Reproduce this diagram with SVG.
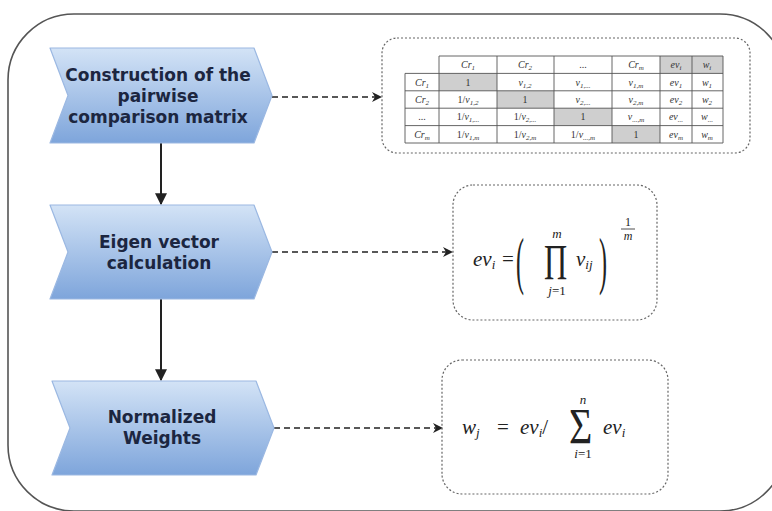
<svg xmlns="http://www.w3.org/2000/svg" width="772" height="511" viewBox="0 0 772 511">
<defs>
<linearGradient id="chev" x1="0" y1="0" x2="0" y2="1">
<stop offset="0" stop-color="#d3e3f6"/>
<stop offset="1" stop-color="#7ea5db"/>
</linearGradient>
<marker id="ah" viewBox="0 0 10 10" refX="9" refY="5" markerWidth="10" markerHeight="10" markerUnits="userSpaceOnUse" orient="auto">
<path d="M0,0 L10,5 L0,10 L3,5 Z" fill="#222"/>
</marker>
<marker id="ahv" viewBox="0 0 10 10" refX="9" refY="5" markerWidth="12" markerHeight="12" markerUnits="userSpaceOnUse" orient="auto">
<path d="M0,0 L10,5 L0,10 Z" fill="#222"/>
</marker>
</defs>
<style>
.frame{fill:#ffffff;stroke:#555;stroke-width:1.6}
.chev{fill:url(#chev);stroke:#9bb8e2;stroke-width:1.2;stroke-linejoin:round}
.lbl{font-family:"DejaVu Sans",Verdana,sans-serif;font-weight:bold;font-size:17px;fill:#1c2640;text-anchor:middle}
.dash{stroke:#222;stroke-width:1.5;stroke-dasharray:6 4;fill:none}
.solid{stroke:#222;stroke-width:2;fill:none}
.box{fill:none;stroke:#666;stroke-width:1.2;stroke-dasharray:2 2}
.grid{stroke:#555;stroke-width:0.9;fill:none}
.gray{fill:#cfcfcf}
.t{font-family:"Liberation Serif","Times New Roman",serif;font-style:italic;font-size:10px;fill:#333;text-anchor:middle}
.tn{font-style:normal}
.m{font-family:"Liberation Serif","Times New Roman",serif;font-style:italic;font-size:21px;fill:#222}
.mn{font-family:"Liberation Serif","Times New Roman",serif;fill:#222}
.ms{font-family:"Liberation Serif","Times New Roman",serif;font-style:italic;fill:#222;text-anchor:middle}
</style>

<rect class="frame" x="8" y="14" width="778" height="497" rx="66" ry="66"/>

<g id="connectors">
<line class="solid" x1="161" y1="143" x2="161" y2="204" marker-end="url(#ahv)"/>
<line class="solid" x1="161" y1="299" x2="161" y2="380" marker-end="url(#ahv)"/>
<line class="dash" x1="272" y1="97" x2="381" y2="97" marker-end="url(#ah)"/>
<line class="dash" x1="272" y1="252" x2="452" y2="252" marker-end="url(#ah)"/>
<line class="dash" x1="274" y1="428" x2="442" y2="428" marker-end="url(#ah)"/>
</g>

<g id="node-construction">
<path class="chev" d="M50,48 L254,48 L272,95.5 L254,143 L50,143 L68,95.5 Z"/>
<text class="lbl" x="158" y="81">Construction of the</text>
<text class="lbl" x="158" y="102">pairwise</text>
<text class="lbl" x="158" y="123">comparison matrix</text>
</g>

<g id="node-eigen">
<path class="chev" d="M50,205 L254,205 L272,252 L254,299 L50,299 L68,252 Z"/>
<text class="lbl" x="159" y="248">Eigen vector</text>
<text class="lbl" x="159" y="269">calculation</text>
</g>

<g id="node-normalized">
<path class="chev" d="M52,381 L256,381 L274,428 L256,475 L52,475 L70,428 Z"/>
<text class="lbl" x="162" y="423">Normalized</text>
<text class="lbl" x="162" y="444">Weights</text>
</g>

<g id="node-matrix">
<rect class="box" x="382" y="38" width="368" height="115" rx="15" ry="15"/>
<rect class="gray" x="660" y="56" width="32" height="17.4"/>
<rect class="gray" x="692" y="56" width="31" height="17.4"/>
<rect class="gray" x="439" y="73.4" width="58" height="17.4"/>
<rect class="gray" x="497" y="90.8" width="57" height="17.4"/>
<rect class="gray" x="554" y="108.2" width="58" height="17.4"/>
<rect class="gray" x="612" y="125.6" width="48" height="17.4"/>
<path class="grid" d="M439,56 H723 M405,73.4 H723 M405,90.8 H723 M405,108.2 H723 M405,125.6 H723 M405,143 H723 M405,73.4 V143 M439,56 V143 M497,56 V143 M554,56 V143 M612,56 V143 M660,56 V143 M692,56 V143 M723,56 V143"/>
<text class="t" x="468" y="68">Cr<tspan font-size="7" dy="2">1</tspan></text>
<text class="t" x="525" y="68">Cr<tspan font-size="7" dy="2">2</tspan></text>
<text class="t tn" x="583" y="68" fill="#888">...</text>
<text class="t" x="636" y="68">Cr<tspan font-size="7" dy="2">m</tspan></text>
<text class="t" x="676" y="68">ev<tspan font-size="7" dy="2">i</tspan></text>
<text class="t" x="707" y="68">w<tspan font-size="7" dy="2">i</tspan></text>
<text class="t" x="422" y="85.5">Cr<tspan font-size="7" dy="2">1</tspan></text>
<text class="t tn" x="468" y="85.5">1</text>
<text class="t" x="525" y="85.5">v<tspan font-size="7" dy="2">1,2</tspan></text>
<text class="t" x="583" y="85.5">v<tspan font-size="7" dy="2">1,...</tspan></text>
<text class="t" x="636" y="85.5">v<tspan font-size="7" dy="2">1,m</tspan></text>
<text class="t" x="676" y="85.5">ev<tspan font-size="7" dy="2">1</tspan></text>
<text class="t" x="707" y="85.5">w<tspan font-size="7" dy="2">1</tspan></text>
<text class="t" x="422" y="103">Cr<tspan font-size="7" dy="2">2</tspan></text>
<text class="t" x="468" y="103"><tspan font-style="normal">1/</tspan>v<tspan font-size="7" dy="2">1,2</tspan></text>
<text class="t tn" x="525" y="103">1</text>
<text class="t" x="583" y="103">v<tspan font-size="7" dy="2">2,...</tspan></text>
<text class="t" x="636" y="103">v<tspan font-size="7" dy="2">2,m</tspan></text>
<text class="t" x="676" y="103">ev<tspan font-size="7" dy="2">2</tspan></text>
<text class="t" x="707" y="103">w<tspan font-size="7" dy="2">2</tspan></text>
<text class="t tn" x="422" y="120" fill="#888">...</text>
<text class="t" x="468" y="120"><tspan font-style="normal">1/</tspan>v<tspan font-size="7" dy="2">1,...</tspan></text>
<text class="t" x="525" y="120"><tspan font-style="normal">1/</tspan>v<tspan font-size="7" dy="2">2,...</tspan></text>
<text class="t tn" x="583" y="120">1</text>
<text class="t" x="636" y="120">v<tspan font-size="7" dy="2">...,m</tspan></text>
<text class="t" x="676" y="120">ev<tspan font-size="7" dy="2">...</tspan></text>
<text class="t" x="707" y="120">w<tspan font-size="7" dy="2">...</tspan></text>
<text class="t" x="422" y="138">Cr<tspan font-size="7" dy="2">m</tspan></text>
<text class="t" x="468" y="138"><tspan font-style="normal">1/</tspan>v<tspan font-size="7" dy="2">1,m</tspan></text>
<text class="t" x="525" y="138"><tspan font-style="normal">1/</tspan>v<tspan font-size="7" dy="2">2,m</tspan></text>
<text class="t" x="583" y="138"><tspan font-style="normal">1/</tspan>v<tspan font-size="7" dy="2">...,m</tspan></text>
<text class="t tn" x="636" y="138">1</text>
<text class="t" x="676" y="138">ev<tspan font-size="7" dy="2">m</tspan></text>
<text class="t" x="707" y="138">w<tspan font-size="7" dy="2">m</tspan></text>
</g>

<g id="node-eigen-formula">
<rect class="box" x="453" y="185" width="204" height="135" rx="20" ry="20"/>
<text class="m" x="473" y="266">ev<tspan style="font-size:13px" dy="3">i</tspan></text>
<text class="mn" x="502" y="266" style="font-size:21px">=</text>
<text class="mn" transform="translate(516,282) scale(1,2.6)" style="font-size:24px">(</text>
<text class="mn" transform="translate(544,279) scale(1,1.6)" style="font-size:32px">Π</text>
<text class="ms" x="557" y="238" style="font-size:13px">m</text>
<text class="ms" x="557" y="295" style="font-size:13px">j<tspan font-style="normal">=1</tspan></text>
<text class="m" x="576" y="266">v<tspan style="font-size:13px" dy="3">ij</tspan></text>
<text class="mn" transform="translate(599,282) scale(1,2.6)" style="font-size:24px">)</text>
<text class="ms" x="628" y="226" style="font-size:12px;font-style:normal">1</text>
<line x1="621" y1="229" x2="635" y2="229" stroke="#222" stroke-width="0.8"/>
<text class="ms" x="628" y="240" style="font-size:12px">m</text>
</g>

<g id="node-weights-formula">
<rect class="box" x="442" y="360" width="226" height="134" rx="20" ry="20"/>
<text class="m" x="462" y="434">w<tspan style="font-size:13px" dy="3">j</tspan></text>
<text class="mn" x="497" y="434" style="font-size:21px">=</text>
<text class="m" x="520" y="434">ev<tspan style="font-size:13px" dy="3">i</tspan><tspan dy="-3" font-style="normal">/</tspan></text>
<text class="mn" transform="translate(569,443) scale(1,1.25)" style="font-size:40px">Σ</text>
<text class="ms" x="583" y="404" style="font-size:13px">n</text>
<text class="ms" x="583" y="458" style="font-size:13px">i<tspan font-style="normal">=1</tspan></text>
<text class="m" x="603" y="434">ev<tspan style="font-size:13px" dy="3">i</tspan></text>
</g>
</svg>
